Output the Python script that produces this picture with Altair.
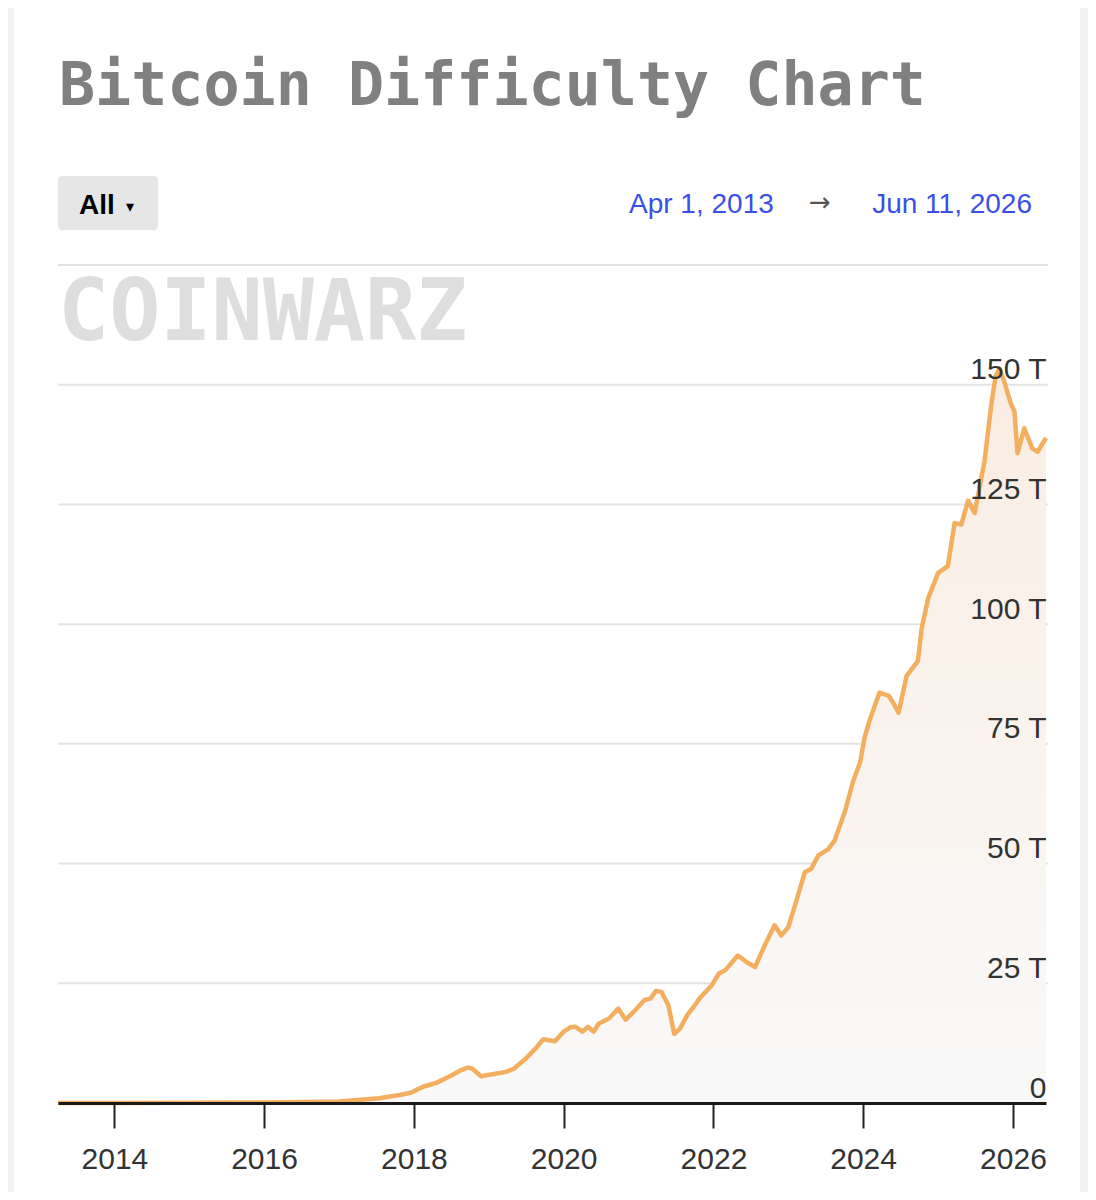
import altair as alt
import pandas as pd

# ---- data (difficulty in trillions, "T") ----
dates = [
    "2013-04-01", "2014-01-01", "2015-01-01", "2016-01-01", "2016-07-01",
    "2017-01-01", "2017-07-15", "2017-10-23", "2017-12-17", "2018-02-14",
    "2018-04-20", "2018-06-21", "2018-08-11", "2018-09-20", "2018-10-12",
    "2018-11-24", "2019-01-18", "2019-03-26", "2019-05-05", "2019-07-01",
    "2019-08-18", "2019-09-24", "2019-11-20", "2020-01-01", "2020-02-03",
    "2020-02-28", "2020-04-01", "2020-04-30", "2020-05-26", "2020-06-21",
    "2020-08-08", "2020-09-24", "2020-10-30", "2020-12-16", "2021-01-30",
    "2021-02-28", "2021-03-26", "2021-04-23", "2021-05-26", "2021-06-24",
    "2021-07-23", "2021-08-25", "2021-09-27", "2021-10-30", "2021-12-24",
    "2022-01-27", "2022-03-01", "2022-04-30", "2022-06-13", "2022-07-23",
    "2022-09-08", "2022-10-26", "2022-11-28", "2023-01-01", "2023-02-10",
    "2023-03-23", "2023-04-23", "2023-05-27", "2023-07-13", "2023-08-15",
    "2023-10-05", "2023-11-14", "2023-12-17", "2024-01-08", "2024-02-03",
    "2024-03-21", "2024-05-06", "2024-05-26", "2024-06-22", "2024-07-31",
    "2024-09-24", "2024-10-13", "2024-11-14", "2025-01-01", "2025-02-17",
    "2025-03-22", "2025-04-24", "2025-05-27", "2025-06-28", "2025-08-15",
    "2025-09-17", "2025-10-08", "2025-10-27", "2025-11-22", "2025-12-21",
    "2026-01-08", "2026-01-23", "2026-02-25", "2026-04-05", "2026-05-01",
    "2026-06-11",
]
values = [
    0.0, 0.001, 0.04, 0.1, 0.2,
    0.32, 0.98, 1.67, 2.15, 3.4,
    4.2, 5.5, 6.7, 7.4, 7.2,
    5.6, 6.0, 6.5, 7.2, 9.3,
    11.4, 13.3, 12.9, 14.9, 15.8,
    15.9, 14.9, 15.9, 14.9, 16.6,
    17.6, 19.7, 17.4, 19.4, 21.5,
    21.8, 23.4, 23.2, 20.4, 14.4,
    15.6, 18.3, 20.1, 22.1, 24.6,
    27.0, 27.8, 30.8, 29.4, 28.4,
    32.9, 37.1, 35.0, 36.7, 42.3,
    48.2, 48.9, 51.7, 52.9, 54.8,
    61.0, 67.3, 71.1, 76.3, 80.1,
    85.7, 85.0, 83.6, 81.5, 89.2,
    92.3, 99.2, 105.5, 110.7, 112.1,
    121.1, 120.8, 125.8, 123.2, 134.0,
    145.8, 151.7, 153.4, 150.3, 146.1,
    144.4, 135.7, 140.9, 136.7, 136.0,
    138.9,
]
grid_values = [25, 50, 75, 100, 125, 150, 175]
y_label_values = [0, 25, 50, 75, 100, 125, 150]
tick_years = [2014, 2016, 2018, 2020, 2022, 2024, 2026]

W, H = 988, 838

df = pd.DataFrame({"date": dates, "value": values})

x_scale = alt.Scale(
    type="utc",
    domain=[alt.DateTime(year=2013, month=4, date=1, utc=True),
            alt.DateTime(year=2026, month=6, date=11, utc=True)],
)
y_scale = alt.Scale(domain=[0, 175], nice=False, zero=True)

x_axis = alt.Axis(
    values=[alt.DateTime(year=y, month=1, date=1, utc=True) for y in tick_years],
    format="%Y", title=None, grid=False,
    domain=True, domainColor="#1a1a1a", domainWidth=3,
    ticks=True, tickColor="#222222", tickWidth=2, tickSize=25,
    labelFont="Liberation Sans", labelFontSize=30, labelColor="#333333",
    labelPadding=16, labelFlush=False, labelOverlap=False, zindex=1,
)
y_axis = alt.Axis(
    orient="right", values=y_label_values, title=None,
    labelExpr="datum.value == 0 ? '0' : datum.value + ' T'",
    domain=False, ticks=False, tickSize=0, grid=False,
    labelAlign="right", labelBaseline="alphabetic", labelPadding=0,
    labelOffset=-6, labelFont="Liberation Sans", labelFontSize=30,
    labelColor="#333333", zindex=1,
)

one = pd.DataFrame({"k": [0]})

card = alt.Chart(one).mark_rect(color="white").encode(
    x=alt.value(-44), x2=alt.value(W + 34), y=alt.value(-257), y2=alt.value(H + 89)
)

grid = alt.Chart(pd.DataFrame({"value": grid_values})).mark_rule(
    color="#e3e3e3", strokeWidth=2
).encode(
    y=alt.Y("value:Q", scale=y_scale, axis=y_axis),
    x=alt.value(0), x2=alt.value(W + 2),
)

area = alt.Chart(df).mark_area(
    color=alt.Gradient(
        gradient="linear",
        stops=[alt.GradientStop(color="#f9f9f9", offset=0),
               alt.GradientStop(color="#faede2", offset=1)],
        x1=1, x2=1, y1=1, y2=0,
    )
).encode(
    x=alt.X("date:T", scale=x_scale, axis=x_axis),
    y=alt.Y("value:Q", scale=y_scale, axis=y_axis),
)

line = alt.Chart(df).mark_line(color="#f3ae5f", strokeWidth=4.5, strokeJoin="round").encode(
    x=alt.X("date:T", scale=x_scale, axis=x_axis),
    y=alt.Y("value:Q", scale=y_scale, axis=y_axis),
)

title = alt.Chart(one).mark_text(
    text="Bitcoin Difficulty Chart", font="DejaVu Sans Mono", fontWeight="bold",
    fontSize=60, color="#808080", align="left", baseline="alphabetic",
).encode(x=alt.value(1), y=alt.value(-160))

button = alt.Chart(one).mark_rect(color="#e6e6e6", cornerRadius=4).encode(
    x=alt.value(0), x2=alt.value(100), y=alt.value(-89), y2=alt.value(-35)
)
button_text = alt.Chart(one).mark_text(
    text="All", font="Liberation Sans", fontWeight="bold", fontSize=28,
    color="#000000", align="left", baseline="alphabetic",
).encode(x=alt.value(21), y=alt.value(-51))
button_arrow = alt.Chart(one).mark_text(
    text="▾", font="DejaVu Sans", fontSize=16, color="#000000",
    align="center", baseline="alphabetic",
).encode(x=alt.value(72), y=alt.value(-53))

date_from = alt.Chart(one).mark_text(
    text="Apr 1, 2013", font="Liberation Sans", fontSize=28, color="#3b4fe8",
    align="left", baseline="alphabetic",
).encode(x=alt.value(571), y=alt.value(-52))
date_arrow = alt.Chart(one).mark_text(
    text="→", font="DejaVu Sans", fontSize=26, color="#555555",
    align="center", baseline="alphabetic",
).encode(x=alt.value(762), y=alt.value(-54))
date_to = alt.Chart(one).mark_text(
    text="Jun 11, 2026", font="Liberation Sans", fontSize=28, color="#3b4fe8",
    align="right", baseline="alphabetic",
).encode(x=alt.value(974), y=alt.value(-52))

watermark = alt.Chart(one).mark_text(
    text="COINWARZ", font="DejaVu Sans Mono", fontWeight="bold", fontSize=85,
    color="#dedede", align="left", baseline="alphabetic",
).encode(x=alt.value(0), y=alt.value(75))

chart = alt.layer(
    card, grid, area, line, title, button, button_text, button_arrow,
    date_from, date_arrow, date_to, watermark,
).properties(
    width=W, height=H,
    autosize=alt.AutoSizeParams(type="none"),
    padding={"left": 50, "top": 257, "right": 42, "bottom": 89},
    background="#f1f1f1",
).configure_view(stroke=None)

chart.save("out.html", embed_options={"renderer": "svg", "actions": False})
